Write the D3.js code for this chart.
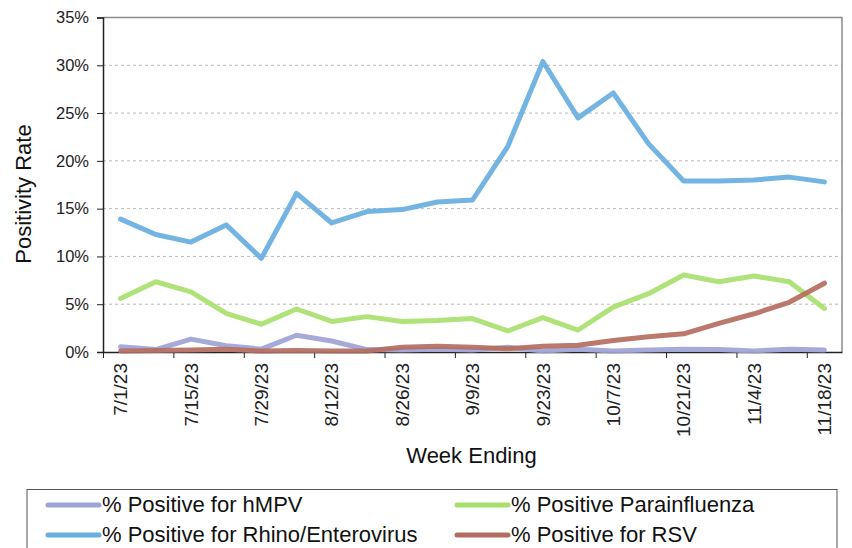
<!DOCTYPE html>
<html><head><meta charset="utf-8">
<script src="https://cdn.jsdelivr.net/npm/d3@7/dist/d3.min.js"></script>
<style>
html,body{margin:0;padding:0;background:#fff;}
svg{display:block;font-family:"Liberation Sans",Arial,sans-serif;}
</style></head>
<body><svg id="c" width="852" height="548"></svg>
<script>
const weeks = ["7/1/23","7/8/23","7/15/23","7/22/23","7/29/23","8/5/23","8/12/23","8/19/23","8/26/23","9/2/23","9/9/23","9/16/23","9/23/23","9/30/23","10/7/23","10/14/23","10/21/23","10/28/23","11/4/23","11/11/23","11/18/23"];
const hmpv = [0.55,0.25,1.35,0.65,0.3,1.75,1.15,0.25,0.2,0.3,0.2,0.5,0.1,0.3,0.1,0.2,0.3,0.25,0.1,0.3,0.2];
const para = [5.6,7.35,6.3,4.05,2.9,4.5,3.2,3.7,3.2,3.3,3.5,2.2,3.6,2.3,4.7,6.1,8.05,7.35,7.95,7.35,4.55];
const rhino = [13.9,12.3,11.5,13.3,9.8,16.6,13.5,14.7,14.9,15.7,15.9,21.5,30.4,24.5,27.1,21.8,17.9,17.9,18.0,18.3,17.8];
const rsv = [0.1,0.15,0.2,0.3,0.1,0.15,0.1,0.1,0.5,0.6,0.5,0.35,0.6,0.7,1.2,1.6,1.9,3.0,4.0,5.2,7.2];
const yTicks = [0,5,10,15,20,25,30,35];
const labelWeeks = weeks.filter((d,i)=>i%2===0);
const seriesNames = ["% Positive for hMPV","% Positive Parainfluenza","% Positive for Rhino/Enterovirus","% Positive for RSV"];

const series = [
  {name:seriesNames[0], values:hmpv, color:"#9EA3D6"},
  {name:seriesNames[1], values:para, color:"#A8E06C"},
  {name:seriesNames[2], values:rhino, color:"#68AEE0"},
  {name:seriesNames[3], values:rsv, color:"#B56C60"}
];

const L=103, R=842, T=17.5, B=352;
const svg = d3.select("#c");
const x = d3.scaleBand().domain(weeks).range([L,R]).padding(0);
const xi = d3.scaleLinear().domain([0,weeks.length]).range([L,R]);
const y = d3.scaleLinear().domain([0,35]).range([B,T]);
const cx = d => x(d)+x.bandwidth()/2;

// gridlines
svg.append("g").selectAll("line").data(yTicks.filter(t=>t>0&&t<35)).join("line")
  .attr("x1",L).attr("x2",R).attr("y1",d=>y(d)).attr("y2",d=>y(d))
  .attr("stroke","#b8b8b8").attr("stroke-width",1).attr("stroke-dasharray","3,3");

// frame top/right
svg.append("path").attr("d",`M${L},${T}H${R}V${B}`).attr("fill","none").attr("stroke","#8c8c8c").attr("stroke-width",1.5);

// y axis
const yAx = svg.append("g").attr("transform",`translate(${L},0)`)
  .call(d3.axisLeft(y).tickValues(yTicks).tickFormat(d=>d+"%").tickSize(6).tickPadding(8));
yAx.select(".domain").attr("stroke","#222").attr("stroke-width",1.5);
yAx.selectAll(".tick line").attr("stroke","#222");
yAx.selectAll(".tick text").attr("font-size","16.5px").attr("fill","#222").attr("font-family","Liberation Sans, Arial, sans-serif");

// x axis ticks (between categories)
const xAx = svg.append("g").attr("transform",`translate(0,${B})`)
  .call(d3.axisBottom(xi).tickValues(d3.range(0,weeks.length,2)).tickFormat("").tickSize(6).tickSizeOuter(0));
xAx.select(".domain").attr("stroke","#222").attr("stroke-width",1.5);
xAx.selectAll(".tick line").attr("stroke","#222");

// x labels
const xLab = svg.append("g").attr("transform",`translate(0,${B})`)
  .call(d3.axisBottom(x).tickValues(labelWeeks).tickSize(0).tickPadding(0));
xLab.select(".domain").remove();
xLab.selectAll(".tick text")
  .attr("font-size","19px").attr("fill","#222").attr("font-family","Liberation Sans, Arial, sans-serif")
  .attr("transform","rotate(-90)").attr("text-anchor","end").attr("dy","0.35em").attr("x",-11).attr("y",0);

// lines
const line = d3.line().x((v,i)=>cx(weeks[i])).y(v=>y(v));
svg.append("g").selectAll("path").data(series).join("path")
  .attr("d",s=>line(s.values)).attr("fill","none").attr("stroke",s=>s.color)
  .attr("stroke-width",5).attr("stroke-linejoin","round").attr("stroke-linecap","round").attr("opacity",0.92);

// axis titles
svg.append("text").attr("x",(L+R)/2-1).attr("y",463).attr("text-anchor","middle")
  .attr("font-size","22px").attr("fill","#111").text("Week Ending");
svg.append("text").attr("transform",`translate(31,194) rotate(-90)`).attr("text-anchor","middle")
  .attr("font-size","22px").attr("fill","#111").text("Positivity Rate");

// legend
svg.append("rect").attr("x",27).attr("y",489.5).attr("width",810).attr("height",70)
  .attr("fill","none").attr("stroke","#555").attr("stroke-width",1);
const legPos = [[48,505],[457,505],[48,535],[457,535]];
const lg = svg.append("g").selectAll("g").data(series).join("g")
  .attr("transform",(s,i)=>`translate(${legPos[i][0]},${legPos[i][1]})`);
lg.append("line").attr("x1",0).attr("x2",51).attr("y1",0).attr("y2",0)
  .attr("stroke",s=>s.color).attr("stroke-width",5).attr("stroke-linecap","round");
lg.append("text").attr("x",54).attr("y",0).attr("dy","0.33em").attr("font-size","22px").attr("fill","#111")
  .text(s=>s.name);
</script></body></html>
